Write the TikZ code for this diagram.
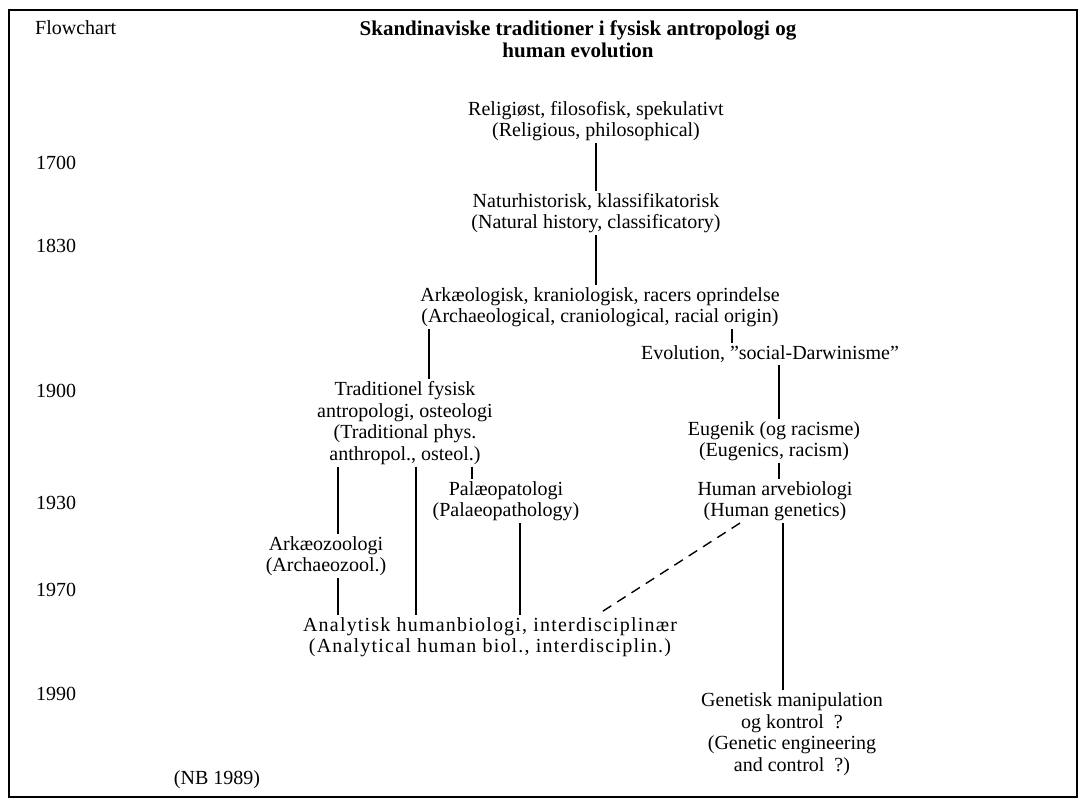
\documentclass[tikz,border=0pt]{standalone}
\usepackage{fontspec}
\setmainfont{Liberation Serif}
\usepackage{tikz}
\usetikzlibrary{positioning}

\tikzset{
  stage/.style={align=center, inner sep=2pt, font=\fontsize{20}{21.5}\selectfont},
  year/.style={inner sep=1pt, font=\fontsize{20}{21.5}\selectfont},
  link/.style={line width=1.4pt},
  maybe/.style={link, dash pattern=on 10pt off 7pt}
}

\begin{document}
\begin{tikzpicture}[x=1pt, y=-1pt]
  \useasboundingbox (0,0) rectangle (1080,799);
  \draw[line width=1.8pt] (9,10) rectangle (1077,797); % frame

  % heading
  \node (flow) [year, anchor=west] at (34,28) {Flowchart};
  \node (title) [stage, font=\fontsize{21}{22.5}\selectfont\bfseries] at (578,39)
    {Skandinaviske traditioner i fysisk antropologi og\\ human evolution};

  % time axis
  \foreach \yr/\ypos in {1700/163, 1830/246, 1900/391, 1930/503, 1970/590, 1990/694}{
    \node (y\yr) [year] at (56,\ypos) {\yr};
  }
  \node (nb) [year] at (217,780) {(NB 1989)};

  % the traditions
  \node (relig) [stage] at (596,121) {Religiøst, filosofisk, spekulativt\\ (Religious, philosophical)};
  \node (natur) [stage] at (596,213) {Naturhistorisk, klassifikatorisk\\ (Natural history, classificatory)};
  \node (arkae) [stage] at (600,307) {Arkæologisk, kraniologisk, racers oprindelse\\ (Archaeological, craniological, racial origin)};
  \node (evol) [stage] at (770,354) {Evolution, ''social-Darwinisme''};
  \node (trad) [stage] at (405,423) {Traditionel fysisk\\ antropologi, osteologi\\ (Traditional phys.\\ anthropol., osteol.)};
  \node (eugen) [stage] at (774,441) {Eugenik (og racisme)\\ (Eugenics, racism)};
  \node (palaeo) [stage] at (506,501) {Palæopatologi\\ (Palaeopathology)};
  \node (human) [stage] at (775,501) {Human arvebiologi\\ (Human genetics)};
  \node (arkzoo) [stage] at (326,556) {Arkæozoologi\\ (Archaeozool.)};
  \node (analyt) [stage, font=\fontsize{20}{21.5}\selectfont\addfontfeature{LetterSpace=6}] at (490,637)
    {Analytisk humanbiologi, interdisciplinær\\ (Analytical human biol., interdisciplin.)};
  \node (genet) [stage] at (792,734) {Genetisk manipulation\\ og kontrol\ \ ?\\ (Genetic engineering\\ and control\ \ ?)};

  % lines of descent
  \draw[link] (relig.south -| 596,0) -- (natur.north -| 596,0);
  \draw[link] (natur.south -| 596,0) -- (arkae.north -| 596,0);
  \draw[link] (arkae.south -| 429,0) -- (trad.north -| 429,0);
  \draw[link] (arkae.south -| 732,0) -- (evol.north -| 732,0);
  \draw[link] (evol.south -| 779,0) -- (eugen.north -| 779,0);
  \draw[link] (eugen.south -| 779,0) -- (human.north -| 779,0);
  \draw[link] (trad.south -| 338,0) -- (arkzoo.north -| 338,0);
  \draw[link] (arkzoo.south -| 338,0) -- (analyt.north -| 338,0);
  \draw[link] (trad.south -| 416,0) -- (analyt.north -| 416,0);
  \draw[link] (trad.south -| 472,0) -- (palaeo.north -| 472,0);
  \draw[link] (palaeo.south -| 520,0) -- (analyt.north -| 520,0);
  \draw[link] (human.south -| 783,0) -- (genet.north -| 783,0);
  \draw[maybe] (human.south -| 740,0) -- (analyt.north -| 597,0);
\end{tikzpicture}
\end{document}
